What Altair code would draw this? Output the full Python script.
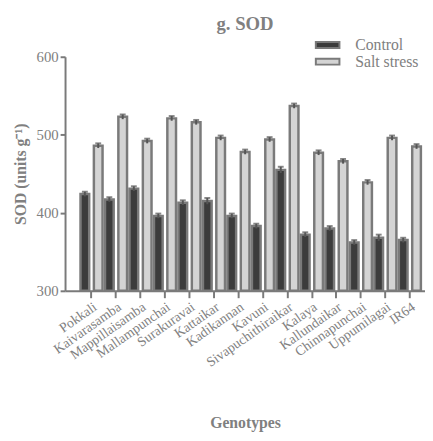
import altair as alt
import pandas as pd

genotypes = ["Pokkali", "Kaivarasamba", "Mappillaisamba", "Mallampunchai", "Surakuravai",
             "Kattaikar", "Kadikannan", "Kavuni", "Sivapuchithiraikar", "Kalaya",
             "Kallundaikar", "Chinnapunchai", "Uppumilagai", "IR64"]
control = [424, 417, 431, 396, 413, 415, 396, 383, 455, 372, 380, 362, 368, 365]
control_err = [3, 3, 3, 3, 3, 4, 3, 3, 4, 3, 3, 3, 4, 3]
salt = [486, 523, 492, 521, 516, 496, 478, 494, 537, 477, 466, 439, 496, 485]
salt_err = [3, 3, 3, 3, 3, 3, 3, 3, 3, 3, 3, 3, 3, 3]
groups = ["Control", "Salt stress"]

rows = []
for i, g in enumerate(genotypes):
    rows.append({"Genotype": g, "Treatment": groups[0], "SOD": control[i],
                 "lo": control[i] - control_err[i], "hi": control[i] + control_err[i]})
    rows.append({"Genotype": g, "Treatment": groups[1], "SOD": salt[i],
                 "lo": salt[i] - salt_err[i], "hi": salt[i] + salt_err[i]})
df = pd.DataFrame(rows)

FONT = "Liberation Serif"
GRAY = "#7a7a7a"

x = alt.X("Genotype:N", sort=genotypes,
          scale=alt.Scale(paddingInner=0.1, paddingOuter=0.4, align=0.79),
          axis=alt.Axis(title="Genotypes", labelAngle=325, labelAlign="right",
                        labelBaseline="top", labelFontSize=14, labelColor="#808080",
                        labelFont=FONT, labelPadding=2, tickSize=7, tickWidth=2,
                        tickColor=GRAY, domainColor=GRAY, domainWidth=2,
                        titleFont=FONT, titleFontSize=16, titleFontWeight="bold",
                        titleColor="#808080", titleY=134, titleBaseline="middle"))
xo = alt.XOffset("Treatment:N", sort=groups, scale=alt.Scale(paddingInner=0.35))
yscale = alt.Scale(domain=[300, 600], zero=False, nice=False)

bars = alt.Chart(df).mark_bar(stroke=GRAY, strokeWidth=2.5).encode(
    x=x, xOffset=xo,
    y=alt.Y("SOD:Q", scale=yscale,
            axis=alt.Axis(title="SOD (units g⁻¹)", values=[300, 400, 500, 600], grid=False,
                          labelFontSize=15, labelColor="#808080", labelFont=FONT,
                          tickSize=5, tickWidth=2, tickColor=GRAY, domainColor=GRAY,
                          domainWidth=2, titleFont=FONT, titleFontSize=16,
                          titleFontWeight="bold", titleColor="#808080", titleX=-37)),
    y2=alt.datum(300),
    color=alt.Color("Treatment:N", sort=groups,
                    scale=alt.Scale(domain=groups, range=["#3c3c3c", "#d4d4d4"]),
                    legend=alt.Legend(title=None, orient="none", legendX=259, legendY=-20,
                                      symbolType="M-2,-0.5H2V0.5H-2Z", symbolSize=144,
                                      symbolStrokeColor=GRAY, symbolStrokeWidth=2,
                                      symbolOpacity=1, labelFont=FONT, labelFontSize=16,
                                      labelColor="#808080", rowPadding=1, labelOffset=20)),
)

err = alt.Chart(df).mark_rule(color="#555555", strokeWidth=2).encode(
    x=alt.X("Genotype:N", sort=genotypes), xOffset=xo,
    y=alt.Y("lo:Q", scale=yscale), y2="hi:Q")

caps = alt.Chart(df).mark_tick(color="#555555", thickness=2, size=6).encode(
    x=alt.X("Genotype:N", sort=genotypes), xOffset=xo,
    y=alt.Y("hi:Q", scale=yscale))

chart = alt.layer(bars, err, caps).properties(
    width=366, height=238,
    title=alt.TitleParams("g. SOD", font=FONT, fontSize=19, fontWeight="bold",
                          color="#808080", anchor="middle", offset=3),
    autosize=alt.AutoSizeParams(type="none"),
    padding={"left": 58, "top": 46, "right": 0, "bottom": 141},
).configure_view(stroke=None)

chart.save("out.html", embed_options={"renderer": "svg", "actions": False})
